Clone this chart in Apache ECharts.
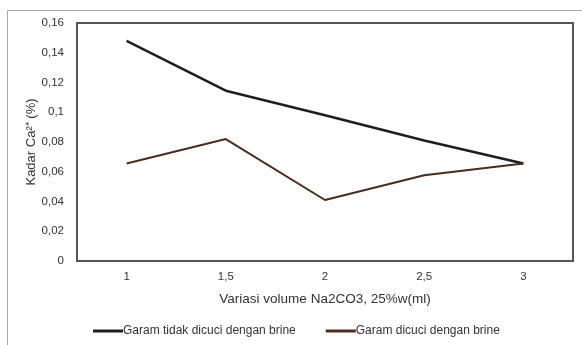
<!DOCTYPE html>
<html>
<head>
<meta charset="utf-8">
<script src="https://cdn.jsdelivr.net/npm/echarts@6/dist/echarts.min.js"></script>
<style>
html,body{margin:0;padding:0;background:#fff;}
#c{width:582px;height:345px;}
</style>
</head>
<body>
<div id="c"></div>
<script>
const categories = ['1', '1,5', '2', '2,5', '3'];
const seriesNames = ['Garam tidak dicuci dengan brine', 'Garam dicuci dengan brine'];
const unwashed = [0.148, 0.1145, 0.098, 0.081, 0.0656];
const washed = [0.0656, 0.082, 0.041, 0.0576, 0.0656];
const yTicks = { min: 0, max: 0.16, interval: 0.02 };

const chart = echarts.init(document.getElementById('c'), null, { renderer: 'canvas' });
const font = 'Liberation Sans, Arial, sans-serif';
chart.setOption({
  animation: false,
  backgroundColor: '#fff',
  graphic: [{
    type: 'rect', left: 5, top: 8, z: -10,
    shape: { width: 640, height: 400 },
    style: { fill: 'none', stroke: '#a8a8a8', lineWidth: 1 }
  }],
  grid: {
    left: 77, right: 9, top: 23, bottom: 84,
    show: true, borderColor: '#555', borderWidth: 2, backgroundColor: 'transparent'
  },
  legend: {
    left: 93, top: 325, padding: 0,
    itemWidth: 30, itemHeight: 3, itemGap: 30,
    icon: 'rect',
    textStyle: { fontFamily: font, fontSize: 12, color: '#333', padding: [0, 0, 0, -5] },
    data: seriesNames
  },
  xAxis: {
    type: 'category',
    data: categories,
    boundaryGap: true,
    axisLine: { show: false },
    axisTick: { show: false },
    axisLabel: { margin: 10, fontFamily: font, fontSize: 11.5, color: '#333' },
    name: 'Variasi volume Na2CO3, 25%w(ml)',
    nameLocation: 'middle',
    nameGap: 31,
    nameMoveOverlap: false,
    nameTextStyle: { fontFamily: font, fontSize: 13.5, color: '#333' }
  },
  yAxis: {
    type: 'value',
    min: yTicks.min, max: yTicks.max, interval: yTicks.interval,
    axisLine: { show: false },
    axisTick: { show: false },
    splitLine: { show: false },
    axisLabel: {
      margin: 13, fontFamily: font, fontSize: 11.5, color: '#333',
      formatter: v => String(+v.toFixed(2)).replace('.', ',')
    },
    name: 'Kadar Ca²⁺ (%)',
    nameLocation: 'middle',
    nameRotate: 90,
    nameGap: 39,
    nameMoveOverlap: false,
    nameTextStyle: { fontFamily: font, fontSize: 13, color: '#333' }
  },
  series: [
    {
      name: seriesNames[0], type: 'line', data: unwashed,
      symbol: 'none', color: '#1c1f22',
      lineStyle: { width: 2.5, color: '#1c1f22' }
    },
    {
      name: seriesNames[1], type: 'line', data: washed,
      symbol: 'none', color: '#4a2c1e',
      lineStyle: { width: 2, color: '#4a2c1e' }
    }
  ]
});
</script>
</body>
</html>
